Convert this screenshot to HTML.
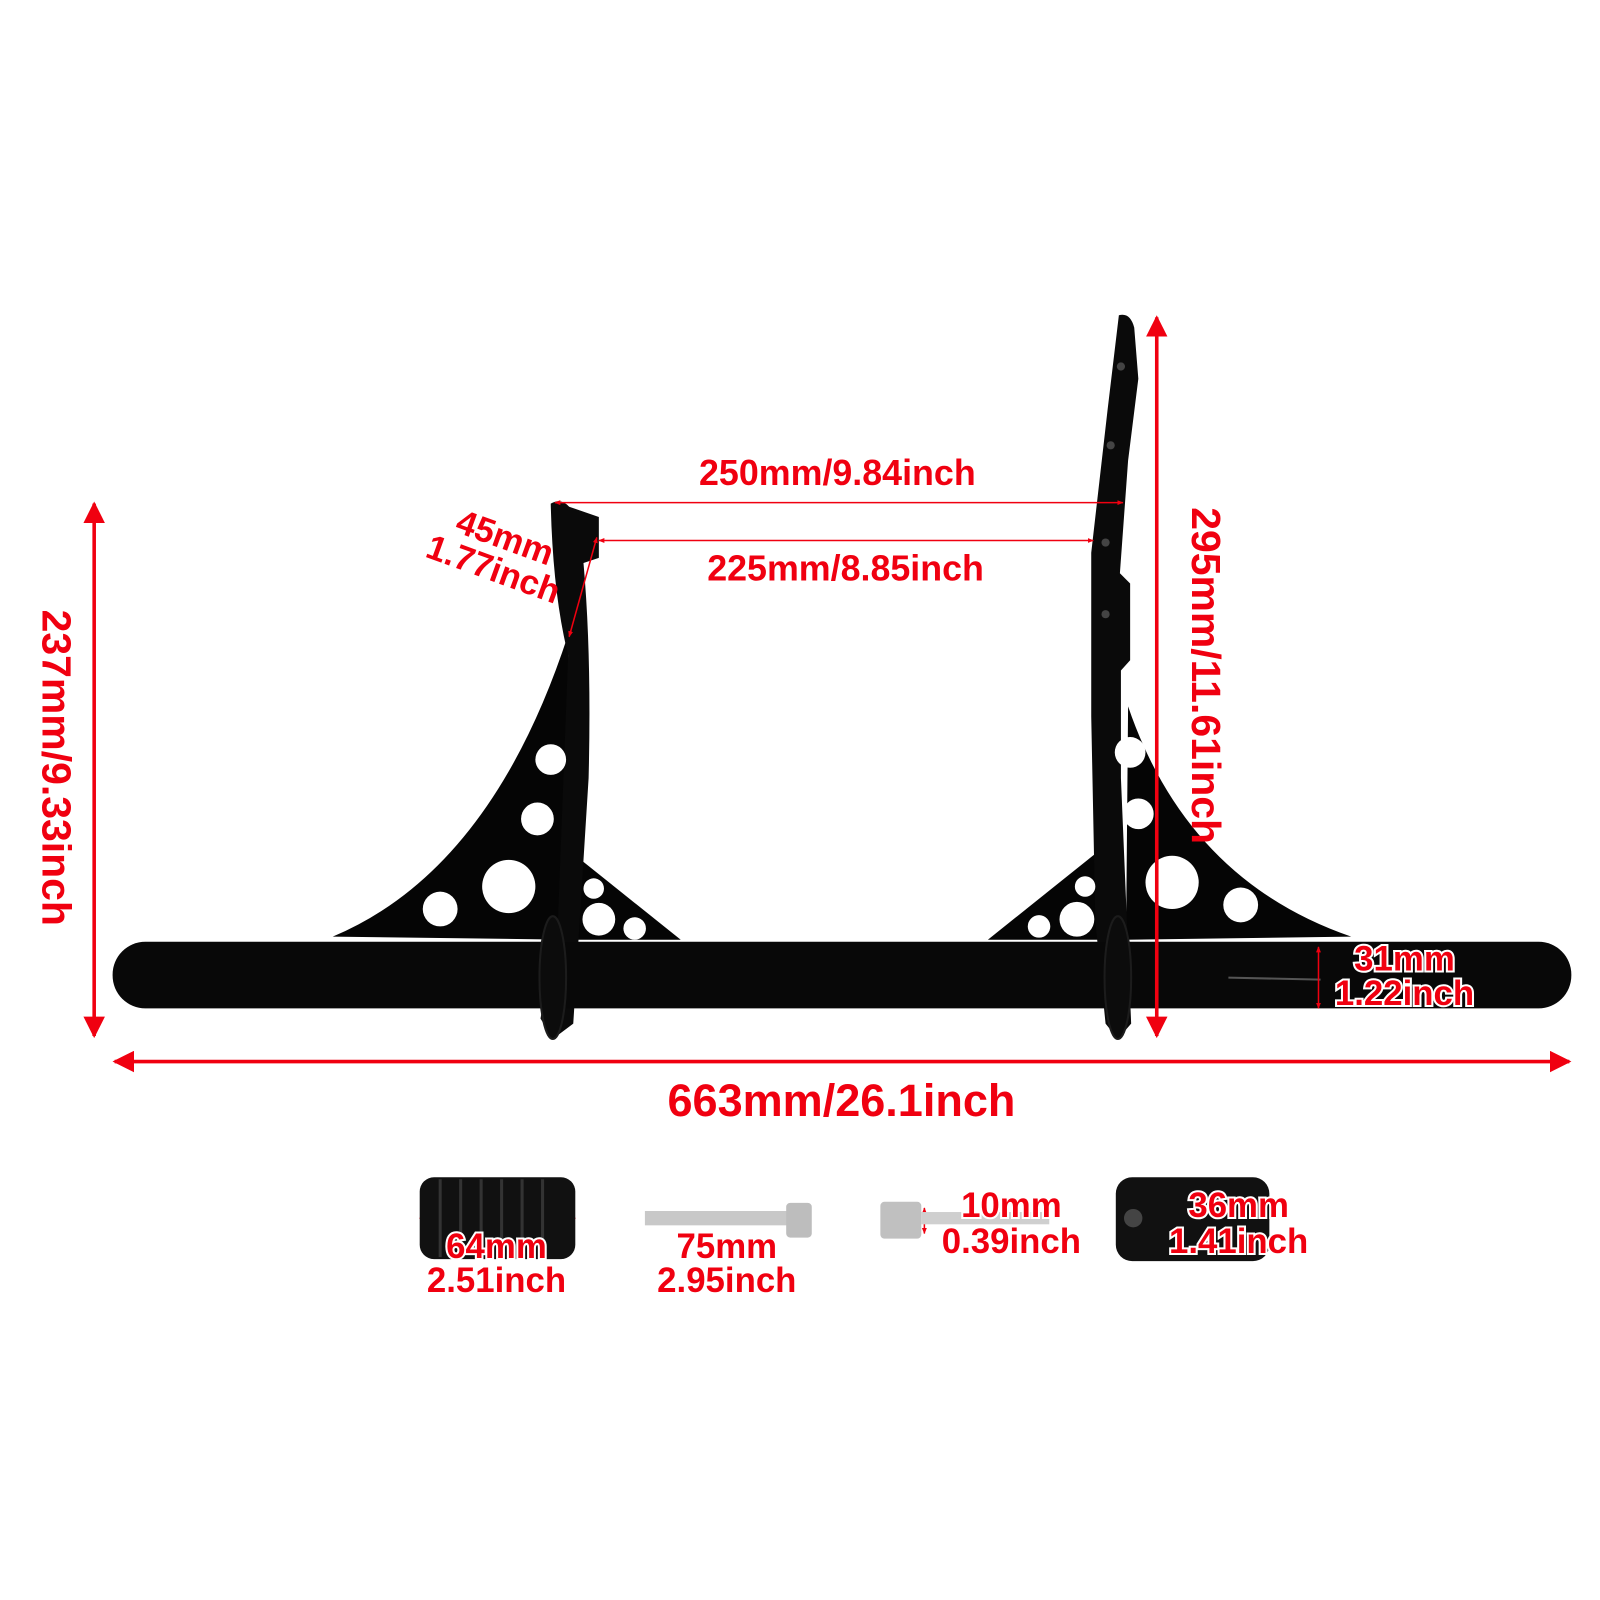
<!DOCTYPE html>
<html><head><meta charset="utf-8"><style>
html,body{margin:0;padding:0;background:#fff;width:1600px;height:1600px;overflow:hidden}
svg{display:block}
text{font-family:"Liberation Sans","DejaVu Sans",sans-serif;fill:#f00010}
.o{stroke:#fff;stroke-width:4;paint-order:stroke;font-weight:bold}
</style></head><body>
<svg width="1600" height="1600" viewBox="0 0 1563 1563" xmlns="http://www.w3.org/2000/svg">
<defs>
<marker id="ah" viewBox="0 0 10 10" refX="9" refY="5" markerWidth="6" markerHeight="6" orient="auto-start-reverse"><path d="M0,0 L10,5 L0,10 z" fill="#f00010"/></marker>
<marker id="as" viewBox="0 0 10 10" refX="9" refY="5" markerWidth="4" markerHeight="4" orient="auto-start-reverse"><path d="M0,1 L10,5 L0,9 z" fill="#f00010"/></marker>
</defs>
<path d="M325,915 Q480,850 555,620 L558,918 Z" fill="#050505"/>
<path d="M555,830 L665,918 L555,918 Z" fill="#050505"/>
<path d="M538,492 Q548,486 556,495 L585,505 L585,545 L570,550 Q578,640 575,760 L560,1000 L540,1015 L528,995 L545,900 L555,640 Q540,580 538,492 Z" fill="#0a0a0a"/>
<path d="M1102,690 Q1160,860 1320,915 L1100,918 Z" fill="#050505"/>
<path d="M1075,830 L965,918 L1080,918 Z" fill="#050505"/>
<path d="M1093,308 Q1104,305 1108,320 L1112,370 L1102,450 L1094,560 L1104,570 L1104,645 L1095,655 L1095,760 L1105,1000 L1092,1015 L1080,1000 L1070,900 L1066,700 L1066,540 L1082,400 Z" fill="#0a0a0a"/>
<rect x="110" y="920" width="1425" height="65" rx="32" ry="32" fill="#080808"/>
<path d="M1200,955 L1290,957" stroke="#555" stroke-width="2"/>
<ellipse cx="540" cy="955" rx="13" ry="60" fill="#0c0c0c" stroke="#1c1c1c" stroke-width="2"/>
<ellipse cx="1092" cy="955" rx="13" ry="60" fill="#0c0c0c" stroke="#1c1c1c" stroke-width="2"/>
<g fill="#fff">
<circle cx="538" cy="742" r="15"/><circle cx="525" cy="800" r="16"/><circle cx="497" cy="866" r="26"/><circle cx="430" cy="888" r="17"/>
<circle cx="580" cy="868" r="10"/><circle cx="585" cy="898" r="16"/><circle cx="620" cy="907" r="11"/>
<circle cx="1104" cy="735" r="15"/><circle cx="1112" cy="795" r="15"/><circle cx="1145" cy="862" r="26"/><circle cx="1212" cy="884" r="17"/>
<circle cx="1060" cy="866" r="10"/><circle cx="1052" cy="898" r="17"/><circle cx="1015" cy="905" r="11"/>
</g>
<g fill="#444"><circle cx="1095" cy="358" r="4"/><circle cx="1085" cy="435" r="4"/><circle cx="1080" cy="530" r="4"/><circle cx="1080" cy="600" r="4"/></g>
<g stroke="#f00010" stroke-width="3.5" marker-start="url(#ah)" marker-end="url(#ah)">
<line x1="92" y1="492" x2="92" y2="1012"/>
<line x1="1130" y1="310" x2="1130" y2="1012"/>
<line x1="112" y1="1037" x2="1533" y2="1037"/>
</g>
<g stroke="#f00010" stroke-width="1.5" marker-start="url(#as)" marker-end="url(#as)">
<line x1="542" y1="491" x2="1097" y2="491"/>
<line x1="585" y1="528" x2="1068" y2="528"/>
<line x1="583" y1="525" x2="556" y2="622"/>
<line x1="1288" y1="925" x2="1288" y2="985"/>
<line x1="410" y1="1190" x2="562" y2="1190"/>
<line x1="632" y1="1190" x2="792" y2="1190"/>
<line x1="903" y1="1180" x2="903" y2="1205"/>
<line x1="1126" y1="1152" x2="1126" y2="1228"/>
</g>
<text x="52" y="750" font-size="40" font-weight="bold" text-anchor="middle" dominant-baseline="middle" transform="rotate(90 52 750)">237mm/9.33inch</text>
<text x="1175" y="660" font-size="40" font-weight="bold" text-anchor="middle" dominant-baseline="middle" transform="rotate(90 1175 660)">295mm/11.61inch</text>
<text x="822" y="1090" font-size="44" text-anchor="middle" font-weight="bold">663mm/26.1inch</text>
<text x="818" y="474" font-size="35" font-weight="bold" text-anchor="middle">250mm/9.84inch</text>
<text x="826" y="567" font-size="35" font-weight="bold" text-anchor="middle">225mm/8.85inch</text>
<g transform="rotate(20 485 548)"><text x="485" y="535" font-size="34" font-weight="bold" text-anchor="middle">45mm</text><text x="485" y="568" font-size="34" font-weight="bold" text-anchor="middle">1.77inch</text></g>
<g>
<rect x="410" y="1150" width="152" height="80" rx="14" fill="#111"/>
<g stroke="#333" stroke-width="3"><line x1="430" y1="1152" x2="430" y2="1228"/><line x1="450" y1="1152" x2="450" y2="1228"/><line x1="470" y1="1152" x2="470" y2="1228"/><line x1="490" y1="1152" x2="490" y2="1228"/><line x1="510" y1="1152" x2="510" y2="1228"/><line x1="530" y1="1152" x2="530" y2="1228"/></g>
<rect x="630" y="1183" width="140" height="14" fill="#c8c8c8"/>
<rect x="768" y="1175" width="25" height="34" rx="4" fill="#bdbdbd"/>
<rect x="860" y="1174" width="40" height="36" rx="4" fill="#c0c0c0"/>
<rect x="900" y="1184" width="125" height="12" fill="#cfcfcf"/>
<rect x="1090" y="1150" width="150" height="82" rx="16" fill="#111"/>
<circle cx="1107" cy="1190" r="9" fill="#444"/>
</g>
<g font-size="34" text-anchor="middle">
<text class="o" x="1372" y="948">31mm</text><text class="o" x="1372" y="982">1.22inch</text>
<text class="o" x="485" y="1229">64mm</text><text class="o" x="485" y="1262">2.51inch</text>
<text class="o" x="710" y="1229">75mm</text><text class="o" x="710" y="1262">2.95inch</text>
<text class="o" x="988" y="1189">10mm</text><text class="o" x="988" y="1224">0.39inch</text>
<text class="o" x="1210" y="1189">36mm</text><text class="o" x="1210" y="1224">1.41inch</text>
</g>
</svg>
</body></html>
